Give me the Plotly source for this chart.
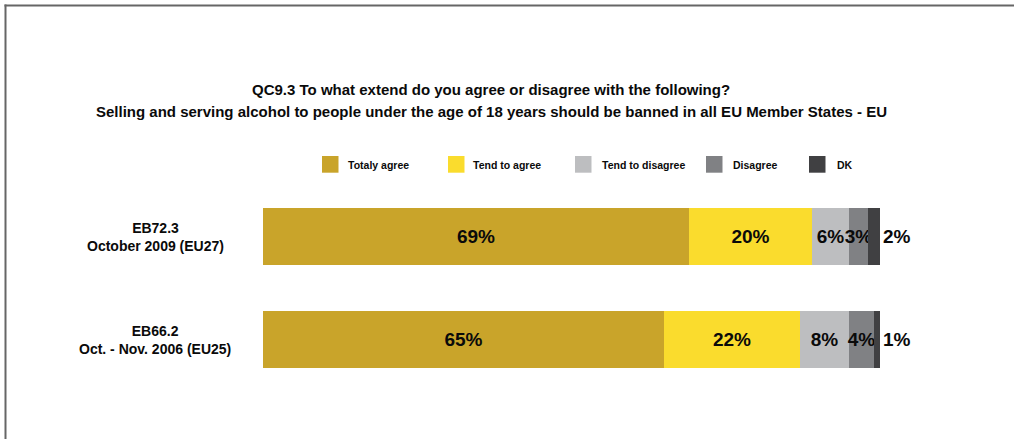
import plotly.graph_objects as go

# Survey waves (bottom to top) and answer shares in percent
waves = ["EB66.2<br>Oct. - Nov. 2006 (EU25)", "EB72.3<br>October 2009 (EU27)"]
answers = ["Totaly agree", "Tend to agree", "Tend to disagree", "Disagree", "DK"]
totaly_agree = [65, 69]
tend_to_agree = [22, 20]
tend_to_disagree = [8, 6]
disagree = [4, 3]
dont_know = [1, 2]

series = [totaly_agree, tend_to_agree, tend_to_disagree, disagree, dont_know]
colors = ["#C9A42A", "#FADC2D", "#BDBEC0", "#808184", "#404042"]

title_lines = [
    "QC9.3 To what extend do you agree or disagree with the following?",
    "Selling and serving alcohol to people under the age of 18 years should be banned in all EU Member States - EU",
]

W, H = 1014, 439
ML, MR, MT, MB = 263, 134, 185, 48
PW, PH = W - ML - MR, H - MT - MB


def px_x(x):
    return (x - ML) / PW


def px_y(y):
    return (H - MB - y) / PH


FONT = "Liberation Sans, Arial, sans-serif"
fig = go.Figure()

for name, vals, col in zip(answers, series, colors):
    last = name == answers[-1]
    fig.add_trace(go.Bar(
        name=name,
        y=waves,
        x=vals,
        orientation="h",
        marker=dict(color=col, line=dict(width=0)),
        width=0.553,
        texttemplate="<b>%{x}%</b>",
        textposition="outside" if last else "inside",
        insidetextanchor="middle",
        constraintext="none",
        textangle=0,
        textfont=dict(family=FONT, size=19, color="#0a0a0a"),
        cliponaxis=False,
        showlegend=False,
        hoverinfo="skip",
    ))

annotations = []
# Wave labels, centred to the left of the bars
for w in waves:
    annotations.append(dict(
        x=px_x(155), xref="paper", y=w, yref="y",
        text="<b>" + w + "</b>", showarrow=False,
        xanchor="center", yanchor="middle", align="center",
        font=dict(family=FONT, size=14, color="#0a0a0a"),
    ))

# Two-line title
for line, ypx in zip(title_lines, [89, 111.5]):
    annotations.append(dict(
        x=px_x(491), xref="paper", y=px_y(ypx), yref="paper",
        text="<b>" + line + "</b>", showarrow=False,
        xanchor="center", yanchor="middle",
        font=dict(family=FONT, size=15, color="#0a0a0a"),
    ))

# Hand-placed legend row
legend_sq_x = [322, 448, 575, 706, 809]
legend_tx_x = [346, 471, 600, 731, 835]
shapes = []
for name, col, sx, tx in zip(answers, colors, legend_sq_x, legend_tx_x):
    shapes.append(dict(
        type="rect", xref="paper", yref="paper",
        x0=px_x(sx), x1=px_x(sx + 16.5), y0=px_y(172.7), y1=px_y(156),
        fillcolor=col, line=dict(width=0),
    ))
    annotations.append(dict(
        x=px_x(tx), xref="paper", y=px_y(164.8), yref="paper",
        text="<b>" + name + "</b>", showarrow=False,
        xanchor="left", yanchor="middle",
        font=dict(family=FONT, size=10.5, color="#0a0a0a"),
    ))

# Frame lines along the top and left edges
frame = "#666666"
shapes.append(dict(type="line", xref="paper", yref="paper",
                   x0=px_x(4.5), x1=px_x(W + 2), y0=px_y(5.5), y1=px_y(5.5),
                   line=dict(color=frame, width=2)))
shapes.append(dict(type="line", xref="paper", yref="paper",
                   x0=px_x(5.5), x1=px_x(5.5), y0=px_y(4.5), y1=px_y(H + 2),
                   line=dict(color=frame, width=2)))

fig.update_layout(
    width=W, height=H,
    margin=dict(l=ML, r=MR, t=MT, b=MB, pad=0),
    barmode="stack",
    bargap=0,
    paper_bgcolor="white",
    plot_bgcolor="white",
    xaxis=dict(range=[0, 100], visible=False, fixedrange=True),
    yaxis=dict(type="category", categoryorder="array", categoryarray=waves,
               range=[-0.5, 1.5], visible=False, fixedrange=True),
    annotations=annotations,
    shapes=shapes,
    showlegend=False,
)

fig.write_html("out.html", config={"displayModeBar": False})
